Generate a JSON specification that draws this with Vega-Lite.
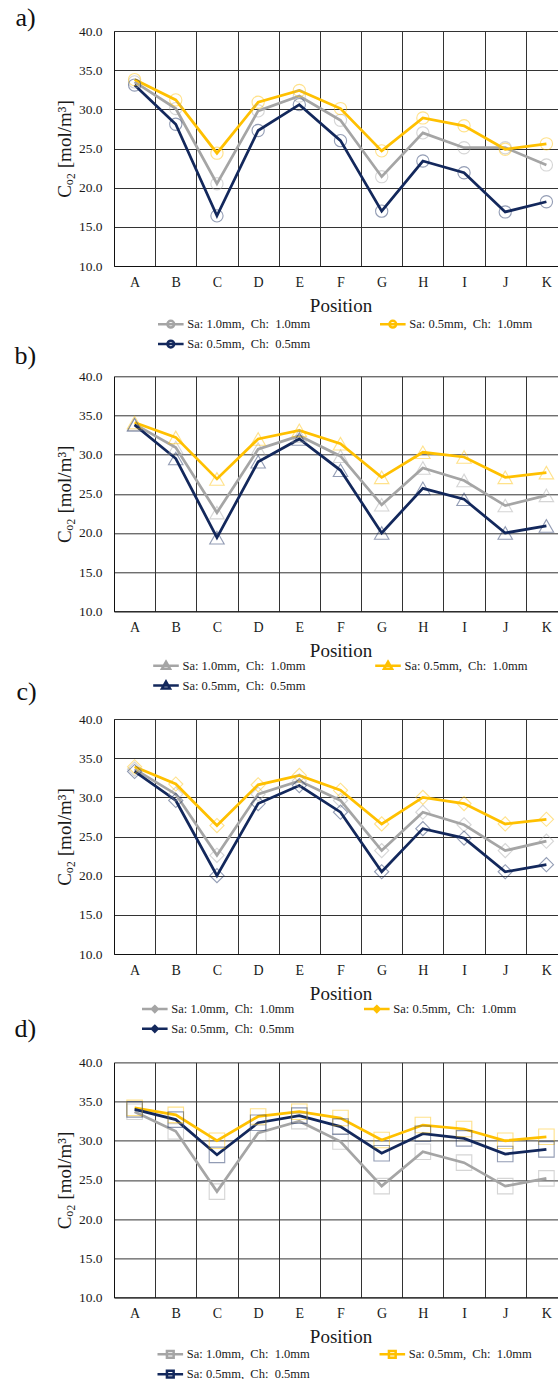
{
  "$schema": "https://vega.github.io/schema/vega-lite/v6.json",
  "padding": {"top": 5, "left": 14, "right": 0, "bottom": 0},
  "background": "white",
  "datasets": {
    "co2": [
      {"p":"a","x":"A","s":"g","v":33.5},{"p":"a","x":"B","s":"g","v":30.1},{"p":"a","x":"C","s":"g","v":20.5},{"p":"a","x":"D","s":"g","v":29.8},{"p":"a","x":"E","s":"g","v":31.7},{"p":"a","x":"F","s":"g","v":28.6},{"p":"a","x":"G","s":"g","v":21.4},{"p":"a","x":"H","s":"g","v":27.0},{"p":"a","x":"I","s":"g","v":25.1},{"p":"a","x":"J","s":"g","v":25.1},{"p":"a","x":"K","s":"g","v":22.9},
      {"p":"a","x":"A","s":"y","v":33.8},{"p":"a","x":"B","s":"y","v":31.2},{"p":"a","x":"C","s":"y","v":24.4},{"p":"a","x":"D","s":"y","v":30.9},{"p":"a","x":"E","s":"y","v":32.4},{"p":"a","x":"F","s":"y","v":30.1},{"p":"a","x":"G","s":"y","v":24.7},{"p":"a","x":"H","s":"y","v":28.9},{"p":"a","x":"I","s":"y","v":27.9},{"p":"a","x":"J","s":"y","v":24.9},{"p":"a","x":"K","s":"y","v":25.6},
      {"p":"a","x":"A","s":"n","v":33.1},{"p":"a","x":"B","s":"n","v":28.1},{"p":"a","x":"C","s":"n","v":16.4},{"p":"a","x":"D","s":"n","v":27.3},{"p":"a","x":"E","s":"n","v":30.6},{"p":"a","x":"F","s":"n","v":26.0},{"p":"a","x":"G","s":"n","v":17.0},{"p":"a","x":"H","s":"n","v":23.4},{"p":"a","x":"I","s":"n","v":21.9},{"p":"a","x":"J","s":"n","v":16.9},{"p":"a","x":"K","s":"n","v":18.2},
      {"p":"b","x":"A","s":"g","v":33.9},{"p":"b","x":"B","s":"g","v":30.9},{"p":"b","x":"C","s":"g","v":22.6},{"p":"b","x":"D","s":"g","v":30.7},{"p":"b","x":"E","s":"g","v":32.4},{"p":"b","x":"F","s":"g","v":29.8},{"p":"b","x":"G","s":"g","v":23.6},{"p":"b","x":"H","s":"g","v":28.3},{"p":"b","x":"I","s":"g","v":26.7},{"p":"b","x":"J","s":"g","v":23.5},{"p":"b","x":"K","s":"g","v":24.8},
      {"p":"b","x":"A","s":"y","v":34.1},{"p":"b","x":"B","s":"y","v":32.2},{"p":"b","x":"C","s":"y","v":26.9},{"p":"b","x":"D","s":"y","v":32.0},{"p":"b","x":"E","s":"y","v":33.1},{"p":"b","x":"F","s":"y","v":31.4},{"p":"b","x":"G","s":"y","v":27.1},{"p":"b","x":"H","s":"y","v":30.3},{"p":"b","x":"I","s":"y","v":29.7},{"p":"b","x":"J","s":"y","v":27.1},{"p":"b","x":"K","s":"y","v":27.7},
      {"p":"b","x":"A","s":"n","v":33.8},{"p":"b","x":"B","s":"n","v":29.5},{"p":"b","x":"C","s":"n","v":19.4},{"p":"b","x":"D","s":"n","v":29.1},{"p":"b","x":"E","s":"n","v":32.0},{"p":"b","x":"F","s":"n","v":28.0},{"p":"b","x":"G","s":"n","v":20.0},{"p":"b","x":"H","s":"n","v":25.7},{"p":"b","x":"I","s":"n","v":24.3},{"p":"b","x":"J","s":"n","v":20.0},{"p":"b","x":"K","s":"n","v":20.9},
      {"p":"c","x":"A","s":"g","v":33.6},{"p":"c","x":"B","s":"g","v":30.4},{"p":"c","x":"C","s":"g","v":22.6},{"p":"c","x":"D","s":"g","v":30.4},{"p":"c","x":"E","s":"g","v":32.1},{"p":"c","x":"F","s":"g","v":29.6},{"p":"c","x":"G","s":"g","v":23.2},{"p":"c","x":"H","s":"g","v":28.1},{"p":"c","x":"I","s":"g","v":26.5},{"p":"c","x":"J","s":"g","v":23.2},{"p":"c","x":"K","s":"g","v":24.4},
      {"p":"c","x":"A","s":"y","v":33.9},{"p":"c","x":"B","s":"y","v":31.7},{"p":"c","x":"C","s":"y","v":26.4},{"p":"c","x":"D","s":"y","v":31.6},{"p":"c","x":"E","s":"y","v":32.8},{"p":"c","x":"F","s":"y","v":30.9},{"p":"c","x":"G","s":"y","v":26.6},{"p":"c","x":"H","s":"y","v":30.0},{"p":"c","x":"I","s":"y","v":29.2},{"p":"c","x":"J","s":"y","v":26.6},{"p":"c","x":"K","s":"y","v":27.2},
      {"p":"c","x":"A","s":"n","v":33.3},{"p":"c","x":"B","s":"n","v":29.6},{"p":"c","x":"C","s":"n","v":20.0},{"p":"c","x":"D","s":"n","v":29.2},{"p":"c","x":"E","s":"n","v":31.5},{"p":"c","x":"F","s":"n","v":28.1},{"p":"c","x":"G","s":"n","v":20.5},{"p":"c","x":"H","s":"n","v":26.0},{"p":"c","x":"I","s":"n","v":24.8},{"p":"c","x":"J","s":"n","v":20.5},{"p":"c","x":"K","s":"n","v":21.4},
      {"p":"d","x":"A","s":"g","v":33.7},{"p":"d","x":"B","s":"g","v":31.2},{"p":"d","x":"C","s":"g","v":23.5},{"p":"d","x":"D","s":"g","v":31.0},{"p":"d","x":"E","s":"g","v":32.5},{"p":"d","x":"F","s":"g","v":29.9},{"p":"d","x":"G","s":"g","v":24.2},{"p":"d","x":"H","s":"g","v":28.6},{"p":"d","x":"I","s":"g","v":27.2},{"p":"d","x":"J","s":"g","v":24.2},{"p":"d","x":"K","s":"g","v":25.2},
      {"p":"d","x":"A","s":"y","v":34.2},{"p":"d","x":"B","s":"y","v":33.3},{"p":"d","x":"C","s":"y","v":30.0},{"p":"d","x":"D","s":"y","v":33.1},{"p":"d","x":"E","s":"y","v":33.7},{"p":"d","x":"F","s":"y","v":32.9},{"p":"d","x":"G","s":"y","v":30.1},{"p":"d","x":"H","s":"y","v":32.0},{"p":"d","x":"I","s":"y","v":31.5},{"p":"d","x":"J","s":"y","v":30.0},{"p":"d","x":"K","s":"y","v":30.5},
      {"p":"d","x":"A","s":"n","v":34.0},{"p":"d","x":"B","s":"n","v":32.7},{"p":"d","x":"C","s":"n","v":28.2},{"p":"d","x":"D","s":"n","v":32.3},{"p":"d","x":"E","s":"n","v":33.2},{"p":"d","x":"F","s":"n","v":31.8},{"p":"d","x":"G","s":"n","v":28.4},{"p":"d","x":"H","s":"n","v":30.9},{"p":"d","x":"I","s":"n","v":30.3},{"p":"d","x":"J","s":"n","v":28.3},{"p":"d","x":"K","s":"n","v":28.9}
    ]
  },
  "data": {"name": "co2"},
  "columns": 1,
  "align": "none",
  "spacing": -9.7,
  "resolve": {"legend": {"color": "independent"}},
  "concat": [
    {
      "width": 453, "height": 235,
      "title": {"text": "a)", "dx": -98.5, "offset": -7.3},
      "transform": [{"filter": "datum.p == 'a'"}],
      "encoding": {
        "x": {"field": "x", "type": "nominal", "title": "Position", "scale": {"type": "band", "paddingInner": 0, "paddingOuter": 0}},
        "y": {"field": "v", "type": "quantitative", "title": "Cₒ₂ [mol/m³]", "scale": {"domain": [10, 40], "nice": false, "zero": false}},
        "color": {"field": "s", "type": "nominal", "scale": {"domain": ["g", "y", "n"], "range": ["#A5A5A5", "#FFC000", "#13285C"]}}
      },
      "layer": [
        {"mark": {"type": "line", "strokeWidth": 2.75},
         "encoding": {"color": {"field": "s", "type": "nominal", "legend": {"legendX": 47.3, "legendY": 283.6,
           "labelExpr": "datum.label == 'g' ? 'Sa: 1.0mm,\u00a0 Ch:\u00a0 1.0mm' : datum.label == 'y' ? 'Sa: 0.5mm,\u00a0 Ch:\u00a0 1.0mm' : 'Sa: 0.5mm,\u00a0 Ch:\u00a0 0.5mm'",
           "symbolType": "M-1.6,0H1.6M0.42,0A0.42,0.42 0 1,1 -0.42,0A0.42,0.42 0 1,1 0.42,0"}}}},
        {"mark": {"type": "point", "shape": "circle", "filled": false, "size": 150, "strokeWidth": 1.1, "strokeOpacity": 0.65},
         "encoding": {"color": {"field": "s", "type": "nominal", "legend": null}}}
      ]
    },
    {
      "columns": 1,
      "align": "none",
      "spacing": -15.3,
      "resolve": {"legend": {"color": "independent"}},
      "concat": [
        {
          "width": 453, "height": 235,
          "title": {"text": "b)", "dx": -99.5, "offset": 0},
          "transform": [{"filter": "datum.p == 'b'"}],
          "encoding": {
            "x": {"field": "x", "type": "nominal", "title": "Position", "scale": {"type": "band", "paddingInner": 0, "paddingOuter": 0}},
            "y": {"field": "v", "type": "quantitative", "title": "Cₒ₂ [mol/m³]", "scale": {"domain": [10, 40], "nice": false, "zero": false}},
            "color": {"field": "s", "type": "nominal", "scale": {"domain": ["g", "y", "n"], "range": ["#A5A5A5", "#FFC000", "#13285C"]}}
          },
          "layer": [
            {"mark": {"type": "line", "strokeWidth": 2.75},
             "encoding": {"color": {"field": "s", "type": "nominal", "legend": {"legendX": 42.5, "legendY": 279.7,
               "labelExpr": "datum.label == 'g' ? 'Sa: 1.0mm,\u00a0 Ch:\u00a0 1.0mm' : datum.label == 'y' ? 'Sa: 0.5mm,\u00a0 Ch:\u00a0 1.0mm' : 'Sa: 0.5mm,\u00a0 Ch:\u00a0 0.5mm'",
               "symbolType": "M-1.6,0H1.6M0,-0.5L0.5,0.38H-0.5Z"}}}},
            {"mark": {"type": "point", "shape": "triangle-up", "filled": false, "size": 210, "strokeWidth": 1.1, "strokeOpacity": 0.65},
             "encoding": {"color": {"field": "s", "type": "nominal", "legend": null}}}
          ]
        },
        {
          "columns": 1,
          "align": "none",
          "spacing": -22.6,
          "resolve": {"legend": {"color": "independent"}},
          "concat": [
            {
              "width": 453, "height": 235,
              "title": {"text": "c)", "dx": -97.5, "offset": 7},
              "transform": [{"filter": "datum.p == 'c'"}],
              "encoding": {
                "x": {"field": "x", "type": "nominal", "title": "Position", "scale": {"type": "band", "paddingInner": 0, "paddingOuter": 0}},
                "y": {"field": "v", "type": "quantitative", "title": "Cₒ₂ [mol/m³]", "scale": {"domain": [10, 40], "nice": false, "zero": false}},
                "color": {"field": "s", "type": "nominal", "scale": {"domain": ["g", "y", "n"], "range": ["#A5A5A5", "#FFC000", "#13285C"]}}
              },
              "layer": [
                {"mark": {"type": "line", "strokeWidth": 2.75},
                 "encoding": {"color": {"field": "s", "type": "nominal", "legend": {"legendX": 31.3, "legendY": 280.3,
                   "labelExpr": "datum.label == 'g' ? 'Sa: 1.0mm,\u00a0 Ch:\u00a0 1.0mm' : datum.label == 'y' ? 'Sa: 0.5mm,\u00a0 Ch:\u00a0 1.0mm' : 'Sa: 0.5mm,\u00a0 Ch:\u00a0 0.5mm'",
                   "symbolType": "M-1.6,0H1.6M0,-0.36L0.36,0L0,0.36L-0.36,0Z"}}}},
                {"mark": {"type": "point", "shape": "diamond", "filled": false, "size": 200, "strokeWidth": 1.1, "strokeOpacity": 0.65},
                 "encoding": {"color": {"field": "s", "type": "nominal", "legend": null}}}
              ]
            },
            {
              "width": 453, "height": 235,
              "title": {"text": "d)", "dx": -99.5, "offset": 13.7},
              "transform": [{"filter": "datum.p == 'd'"}],
              "encoding": {
                "x": {"field": "x", "type": "nominal", "title": "Position", "scale": {"type": "band", "paddingInner": 0, "paddingOuter": 0}},
                "y": {"field": "v", "type": "quantitative", "title": "Cₒ₂ [mol/m³]", "scale": {"domain": [10, 40], "nice": false, "zero": false}},
                "color": {"field": "s", "type": "nominal", "scale": {"domain": ["g", "y", "n"], "range": ["#A5A5A5", "#FFC000", "#13285C"]}}
              },
              "layer": [
                {"mark": {"type": "line", "strokeWidth": 2.75},
                 "encoding": {"color": {"field": "s", "type": "nominal", "legend": {"legendX": 46.8, "legendY": 282.3,
                   "labelExpr": "datum.label == 'g' ? 'Sa: 1.0mm,\u00a0 Ch:\u00a0 1.0mm' : datum.label == 'y' ? 'Sa: 0.5mm,\u00a0 Ch:\u00a0 1.0mm' : 'Sa: 0.5mm,\u00a0 Ch:\u00a0 0.5mm'",
                   "symbolType": "M-1.6,0H1.6M-0.42,-0.42H0.42V0.42H-0.42Z"}}}},
                {"mark": {"type": "point", "shape": "square", "filled": false, "size": 240, "strokeWidth": 1.1, "strokeOpacity": 0.65},
                 "encoding": {"color": {"field": "s", "type": "nominal", "legend": null}}}
              ]
            }
          ]
        }
      ]
    }
  ],
  "config": {
    "font": "Liberation Serif",
    "view": {"stroke": null},
    "title": {"anchor": "start", "frame": "group", "baseline": "alphabetic", "fontSize": 26, "font": "Liberation Serif", "fontWeight": "normal", "color": "#111"},
    "axis": {
      "labelFont": "Liberation Serif", "titleFont": "Liberation Serif", "labelColor": "#1a1a1a", "titleColor": "#1a1a1a",
      "titleFontWeight": "normal", "grid": true, "gridColor": "#333333", "gridOpacity": 1, "gridWidth": 1,
      "ticks": false, "domainColor": "#111111", "domainWidth": 1, "labelOverlap": false
    },
    "axisX": {"tickBand": "extent", "labelAngle": 0, "labelFontSize": 14, "labelPadding": 9, "titleFontSize": 19, "titlePadding": 7},
    "axisY": {"values": [10, 15, 20, 25, 30, 35, 40], "format": ".1f", "labelFontSize": 13.5, "labelPadding": 12, "titleFontSize": 19, "titlePadding": 4},
    "legend": {
      "orient": "none", "title": null, "columns": 2, "direction": "horizontal",
      "labelFont": "Liberation Serif", "labelFontSize": 12.5, "labelColor": "#1a1a1a", "labelLimit": 300,
      "symbolSize": 256, "symbolStrokeWidth": 2.5, "symbolFillColor": "transparent",
      "columnPadding": 64, "rowPadding": 2, "labelOffset": 7, "padding": 0
    }
  }
}
